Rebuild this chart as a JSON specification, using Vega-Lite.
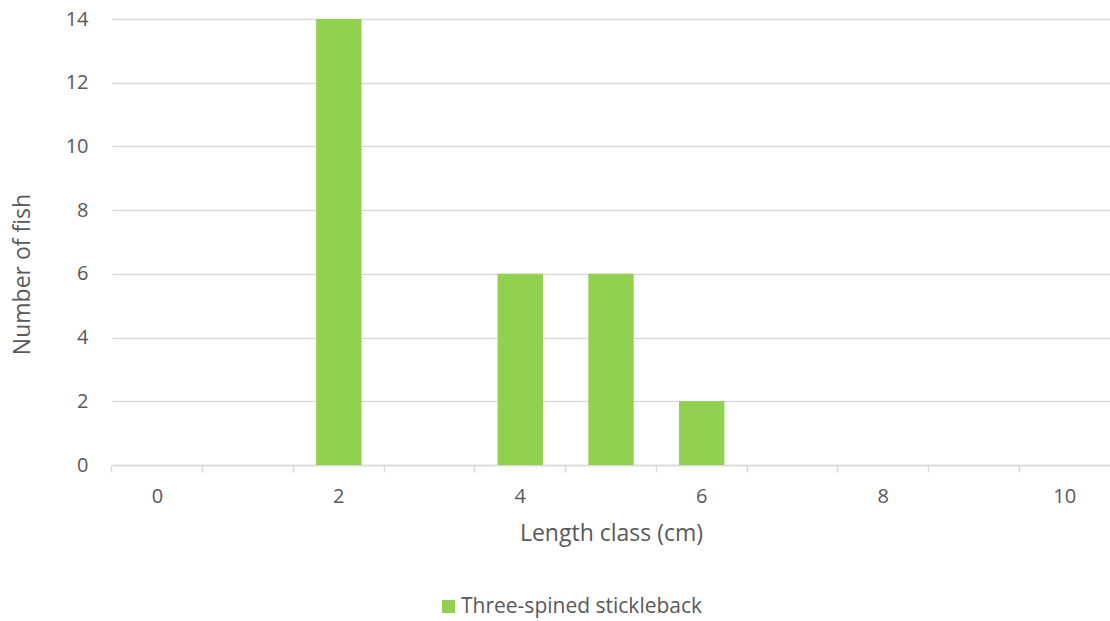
{
  "$schema": "https://vega.github.io/schema/vega-lite/v6.json",
  "autosize": {"type": "none"},
  "padding": {"left": 112, "top": 19, "right": 0, "bottom": 156},
  "width": 998,
  "height": 446,
  "background": "white",
  "config": {
    "font": "Open Sans",
    "view": {"stroke": null},
    "axis": {
      "labelFont": "Open Sans",
      "titleFont": "Open Sans",
      "labelColor": "#595959",
      "titleColor": "#595959",
      "labelFontSize": 20,
      "titleFontSize": 23,
      "titleFontWeight": "normal",
      "domainColor": "#D9D9D9",
      "tickColor": "#D9D9D9",
      "gridColor": "#D9D9D9"
    }
  },
  "data": {
    "values": [
      {"length": 0, "count": 0, "species": "Three-spined stickleback"},
      {"length": 1, "count": 0, "species": "Three-spined stickleback"},
      {"length": 2, "count": 14, "species": "Three-spined stickleback"},
      {"length": 3, "count": 0, "species": "Three-spined stickleback"},
      {"length": 4, "count": 6, "species": "Three-spined stickleback"},
      {"length": 5, "count": 6, "species": "Three-spined stickleback"},
      {"length": 6, "count": 2, "species": "Three-spined stickleback"},
      {"length": 7, "count": 0, "species": "Three-spined stickleback"},
      {"length": 8, "count": 0, "species": "Three-spined stickleback"},
      {"length": 9, "count": 0, "species": "Three-spined stickleback"},
      {"length": 10, "count": 0, "species": "Three-spined stickleback"}
    ]
  },
  "resolve": {"axis": {"x": "independent"}},
  "layer": [
    {
      "mark": {"type": "bar"},
      "encoding": {
        "x": {
          "field": "length",
          "type": "ordinal",
          "scale": {"paddingInner": 0.5, "paddingOuter": 0.25},
          "axis": {
            "orient": "bottom",
            "title": "Length class (cm)",
            "labelAngle": 0,
            "labelExpr": "datum.value % 2 == 0 ? datum.label : ''",
            "ticks": false,
            "domain": true,
            "domainWidth": 1.5,
            "labelPadding": 21,
            "titlePadding": 16,
            "grid": false
          }
        },
        "y": {
          "field": "count",
          "type": "quantitative",
          "scale": {"domain": [0, 14]},
          "axis": {
            "title": "Number of fish",
            "values": [0, 2, 4, 6, 8, 10, 12, 14],
            "domain": false,
            "ticks": false,
            "tickSize": 0,
            "labelPadding": 24,
            "titlePadding": 31,
            "titleY": 255,
            "grid": true,
            "gridWidth": 1.5
          }
        },
        "color": {
          "field": "species",
          "type": "nominal",
          "scale": {"range": ["#92D050"]},
          "legend": {
            "title": null,
            "orient": "none",
            "legendX": 326,
            "legendY": 577,
            "symbolType": "square",
            "symbolSize": 170,
            "symbolStrokeWidth": 0,
            "labelFont": "Open Sans",
            "labelFontSize": 21,
            "labelColor": "#595959",
            "labelOffset": 2,
            "labelLimit": 400
          }
        }
      }
    },
    {
      "mark": {"type": "tick", "opacity": 0},
      "encoding": {
        "x": {
          "field": "length",
          "type": "ordinal",
          "axis": {
            "orient": "bottom",
            "title": null,
            "labels": false,
            "domain": false,
            "grid": false,
            "ticks": true,
            "tickSize": 7,
            "tickWidth": 1.5,
            "bandPosition": -0.5
          }
        }
      }
    }
  ]
}
